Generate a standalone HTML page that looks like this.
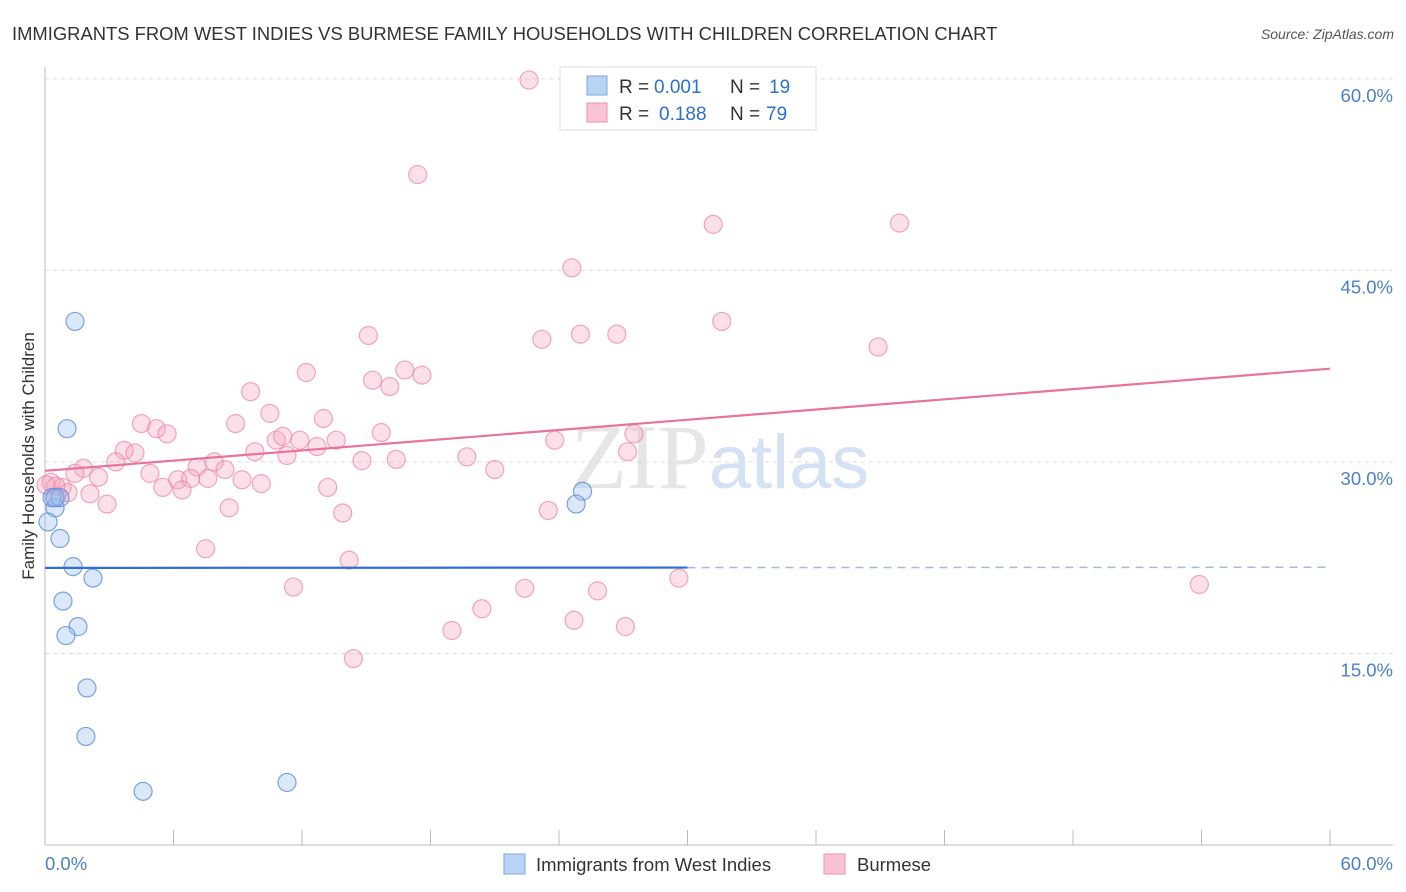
<!DOCTYPE html>
<html><head><meta charset="utf-8"><style>
body{margin:0;background:#fff;font-family:"Liberation Sans",sans-serif;}
</style></head><body>
<svg id="chart" width="1406" height="892" xmlns="http://www.w3.org/2000/svg" style="display:block">
<text x="12" y="40" font-size="18.4" fill="#333">IMMIGRANTS FROM WEST INDIES VS BURMESE FAMILY HOUSEHOLDS WITH CHILDREN CORRELATION CHART</text>
<text x="1394" y="39" font-size="14" fill="#555" text-anchor="end" font-style="italic">Source: ZipAtlas.com</text>
<text x="720" y="488" font-size="92" text-anchor="middle" fill="#e6e6e6" font-family="Liberation Serif,serif">ZIP<tspan fill="#d4e2f4" font-family="Liberation Sans,sans-serif" font-size="76">atlas</tspan></text>
<g id="grid"></g><g id="axes"></g><g id="marks"></g>
<text transform="translate(34,456) rotate(-90)" font-size="17" fill="#333" text-anchor="middle">Family Households with Children</text>
<g>
<rect x="560" y="67" width="256" height="63" fill="#fff" stroke="#ddd"/>
<rect x="587" y="76" width="20" height="19" fill="#b9d3f4" stroke="#7aa7e0"/>
<rect x="587" y="103" width="20" height="19" fill="#f9c3d3" stroke="#f08fb0"/>
<text x="619" y="93" font-size="19" fill="#333">R =</text>
<text x="654" y="93" font-size="19" fill="#2f6fd0">0.001</text>
<text x="730" y="93" font-size="19" fill="#333">N =</text>
<text x="769" y="93" font-size="19" fill="#2f6fd0">19</text>
<text x="619" y="120" font-size="19" fill="#333">R =</text>
<text x="659" y="120" font-size="19" fill="#2f6fd0">0.188</text>
<text x="730" y="120" font-size="19" fill="#333">N =</text>
<text x="766" y="120" font-size="19" fill="#2f6fd0">79</text>
</g>
<g>
<rect x="504" y="854" width="21" height="20" fill="#b9d3f4" stroke="#7aa7e0"/>
<text x="536" y="871" font-size="18.5" fill="#333">Immigrants from West Indies</text>
<rect x="824" y="854" width="21" height="20" fill="#f9c3d3" stroke="#f08fb0"/>
<text x="857" y="871" font-size="18.5" fill="#333">Burmese</text>
</g>
</svg>
<script>
const yTicks=[15,30,45,60];
const yTickLabels=["15.0%","30.0%","45.0%","60.0%"];
const xTicks=[0,6,12,18,24,30,36,42,48,54,60];
const blueX=[1.40,1.03,0.47,0.33,0.70,0.14,0.70,1.31,2.24,0.84,1.54,0.98,1.96,1.91,4.58,11.3,25.1,24.8,0.47];
const blueY=[41.0,32.6,26.4,27.2,27.2,25.3,24.0,21.8,20.9,19.1,17.1,16.4,12.3,8.5,4.2,4.9,27.7,26.7,27.2];
const pinkX=[22.6,17.4,31.2,39.9,24.6,31.6,15.1,23.2,25.0,26.7,38.9,12.2,16.8,17.6,15.3,16.1,9.6,10.5,13.0,8.9,4.5,5.2,5.7,15.7,27.5,10.8,11.1,11.9,13.6,23.8,12.7,3.7,4.2,9.8,11.3,27.2,19.7,3.3,7.9,14.8,16.4,1.8,7.1,8.4,21.0,1.4,4.9,2.5,6.2,7.6,6.8,9.2,10.1,0.28,0.8,5.5,6.4,13.2,1.07,2.1,0.56,2.9,8.6,13.9,23.5,7.5,14.2,29.6,11.6,22.4,25.8,53.9,20.4,24.7,27.1,19.0,14.4,0.5,0.05];
const pinkY=[59.9,52.5,48.6,48.7,45.2,41.0,39.9,39.6,40.0,40.0,39.0,37.0,37.2,36.8,36.4,35.9,35.5,33.8,33.4,33.0,33.0,32.6,32.2,32.3,32.2,31.7,32.0,31.7,31.7,31.7,31.2,30.9,30.7,30.8,30.5,30.8,30.4,30.0,30.0,30.1,30.2,29.5,29.6,29.4,29.4,29.1,29.1,28.8,28.6,28.7,28.7,28.6,28.3,28.4,28.0,28.0,27.8,28.0,27.6,27.5,27.3,26.7,26.4,26.0,26.2,23.2,22.3,20.9,20.2,20.1,19.9,20.4,18.5,17.6,17.1,16.8,14.6,28.1,28.2];
const blueTrend=[21.7,21.75];
const pinkTrend=[29.3,37.3];
const NS="http://www.w3.org/2000/svg";
const sx=v=>45+v*(1285/60), sy=v=>845-v*12.77;
function mk(p,t,a){const e=document.createElementNS(NS,t);for(const k in a)e.setAttribute(k,a[k]);p.appendChild(e);return e;}
const grid=document.getElementById('grid'),axes=document.getElementById('axes'),marks=document.getElementById('marks');
yTicks.forEach((v,i)=>{
 const l=mk(grid,'line',{x1:45,x2:1393,y1:sy(v),y2:sy(v),stroke:'#ddd','stroke-dasharray':'4,4'});
 
 
 const t=mk(grid,'text',{x:1393,y:sy(v)+23,'font-size':18.5,fill:'#4a80d0','text-anchor':'end'});t.textContent=yTickLabels[i];
 
 
});
let a=mk(axes,'line',{x1:45,x2:45,y1:67,y2:845,stroke:'#bbb'});


a=mk(axes,'line',{x1:45,x2:1393,y1:845,y2:845,stroke:'#bbb'});


xTicks.forEach(v=>{if(v>0){const t=mk(axes,'line',{x1:sx(v),x2:sx(v),y1:830,y2:845,stroke:'#bbb'});
 
 }});
let xl=mk(axes,'text',{x:45,y:870,'font-size':18.5,fill:'#4a80d0'});xl.textContent='0.0%';


xl=mk(axes,'text',{x:1393,y:870,'font-size':18.5,fill:'#4a80d0','text-anchor':'end'});xl.textContent='60.0%';


pinkX.forEach((x,i)=>{const c=mk(marks,'circle',{cx:sx(x),cy:sy(pinkY[i]),r:9,fill:'rgba(244,165,190,0.35)',stroke:'rgba(236,130,165,0.7)','stroke-width':1.2});
 
 });
blueX.forEach((x,i)=>{const c=mk(marks,'circle',{cx:sx(x),cy:sy(blueY[i]),r:9,fill:'rgba(150,190,240,0.35)',stroke:'rgba(90,140,220,0.8)','stroke-width':1.2});
 
 });
const yb=x=>blueTrend[0]+(blueTrend[1]-blueTrend[0])*x/60, yp=x=>pinkTrend[0]+(pinkTrend[1]-pinkTrend[0])*x/60;
let tl=mk(marks,'line',{x1:sx(0),y1:sy(yp(0)),x2:sx(60),y2:sy(yp(60)),stroke:'#e8739c','stroke-width':2.2});


tl=mk(marks,'line',{x1:sx(0),y1:sy(yb(0)),x2:sx(30),y2:sy(yb(30)),stroke:'#2f6fd0','stroke-width':2.2});


tl=mk(marks,'line',{x1:sx(30),y1:sy(yb(30)),x2:sx(60),y2:sy(yb(60)),stroke:'#9dbde8','stroke-width':1.5,'stroke-dasharray':'8,6'});


</script>
</body></html>
